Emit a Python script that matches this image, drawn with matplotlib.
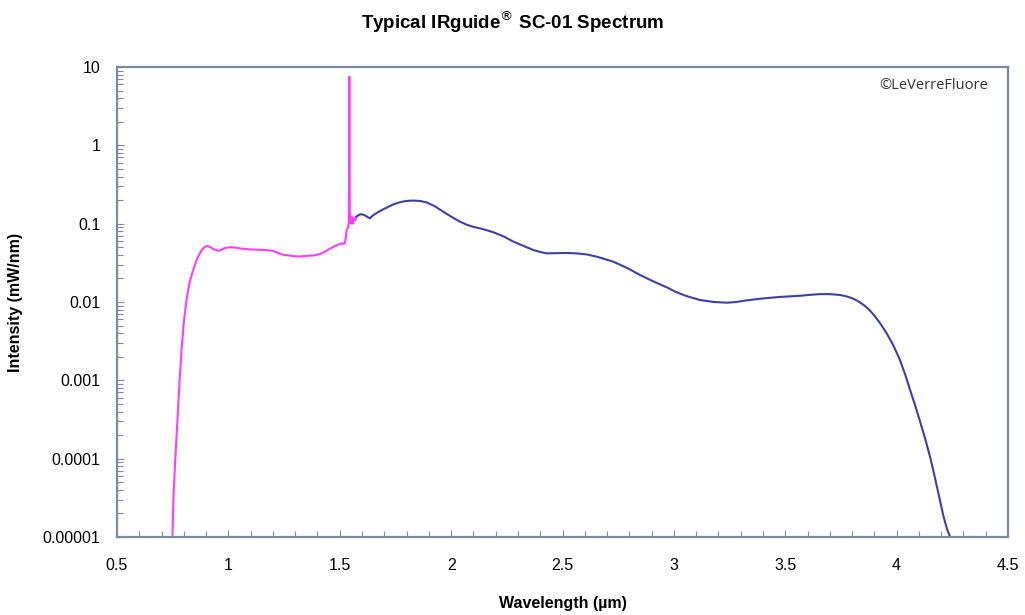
import matplotlib
matplotlib.use("Agg")
import matplotlib.pyplot as plt
from matplotlib.ticker import FixedLocator, LogLocator, NullFormatter, MultipleLocator

# Visible (magenta) part of the spectrum, wavelength in um, intensity in mW/nm
vis_wl = [0.748, 0.753, 0.760, 0.768, 0.775, 0.780, 0.785, 0.790, 0.800, 0.812,
          0.826, 0.842, 0.860, 0.880, 0.892, 0.902, 0.915, 0.930, 0.945, 0.959,
          0.972, 0.985, 1.007, 1.030, 1.060, 1.095, 1.127, 1.170, 1.200, 1.216,
          1.246, 1.280, 1.314, 1.340, 1.360, 1.390, 1.411, 1.435, 1.456, 1.480,
          1.501, 1.512, 1.519, 1.525, 1.531, 1.538, 1.541, 1.543, 1.545, 1.549,
          1.553, 1.558, 1.563, 1.568, 1.575]
vis_int = [8e-6, 3e-5, 8e-5, 2.1e-4, 4.8e-4, 9e-4, 1.5e-3, 2.5e-3, 5.5e-3, 0.0107,
           0.018, 0.0257, 0.036, 0.046, 0.050, 0.052, 0.051, 0.048, 0.046, 0.045,
           0.047, 0.049, 0.050, 0.0495, 0.048, 0.047, 0.0465, 0.046, 0.045, 0.043,
           0.040, 0.039, 0.038, 0.0385, 0.039, 0.0395, 0.041, 0.044, 0.048, 0.052,
           0.055, 0.056, 0.055, 0.060, 0.083, 0.090, 0.11, 7.5, 0.12, 0.10,
           0.123, 0.10, 0.118, 0.11, 0.123]

# Infrared (blue) part of the spectrum
ir_wl = [1.575, 1.587, 1.598, 1.610, 1.620, 1.635, 1.650, 1.675, 1.700, 1.740,
         1.765, 1.790, 1.810, 1.830, 1.860, 1.890, 1.925, 1.965, 2.000, 2.040,
         2.070, 2.100, 2.130, 2.160, 2.190, 2.235, 2.280, 2.325, 2.369, 2.400,
         2.429, 2.470, 2.519, 2.560, 2.609, 2.660, 2.728, 2.790, 2.848, 2.910,
         2.968, 3.010, 3.057, 3.117, 3.180, 3.237, 3.280, 3.327, 3.400, 3.476,
         3.564, 3.620, 3.656, 3.700, 3.746, 3.775, 3.800, 3.820, 3.840, 3.860,
         3.880, 3.900, 3.925, 3.955, 3.985, 4.014, 4.040, 4.060, 4.083, 4.105,
         4.128, 4.150, 4.165, 4.180, 4.195, 4.210, 4.225, 4.240, 4.250]
ir_int = [0.123, 0.130, 0.132, 0.129, 0.124, 0.117, 0.128, 0.142, 0.155, 0.176,
          0.186, 0.193, 0.196, 0.197, 0.195, 0.187, 0.168, 0.142, 0.123, 0.106,
          0.097, 0.091, 0.087, 0.0825, 0.0776, 0.069, 0.0589, 0.052, 0.0461, 0.0435,
          0.0418, 0.0420, 0.0423, 0.0418, 0.0405, 0.0375, 0.0327, 0.0272, 0.0221, 0.0182,
          0.0154, 0.0134, 0.0119, 0.0106, 0.0100, 0.0098, 0.0100, 0.0105, 0.0111, 0.0116,
          0.0120, 0.0124, 0.0126, 0.0126, 0.0123, 0.0118, 0.0112, 0.0105, 0.0097, 0.0088,
          0.0078, 0.0067, 0.0054, 0.0040, 0.0028, 0.00185, 0.00115, 7.6e-4, 4.8e-4, 3.0e-4,
          1.8e-4, 1.06e-4, 7.0e-5, 4.5e-5, 2.9e-5, 1.85e-5, 1.3e-5, 1.0e-5, 8e-6]

x_ticks = [0.5, 1, 1.5, 2, 2.5, 3, 3.5, 4, 4.5]
x_tick_labels = ["0.5", "1", "1.5", "2", "2.5", "3", "3.5", "4", "4.5"]
y_ticks = [1e-5, 1e-4, 1e-3, 1e-2, 1e-1, 1, 10]
y_tick_labels = ["0.00001", "0.0001", "0.001", "0.01", "0.1", "1", "10"]

plt.rcParams['font.family'] = ['Liberation Sans', 'DejaVu Sans']

fig = plt.figure(figsize=(10.25, 6.15), dpi=100)
ax = fig.add_axes([117/1025, 1-537/615, (1008-117)/1025, (537-67)/615])

ax.plot(vis_wl, vis_int, color='#ff3cff', lw=1.5, solid_joinstyle='round')
ax.plot(ir_wl, ir_int, color='#3f3fa8', lw=1.5, solid_joinstyle='round')

ax.set_yscale('log')
ax.set_xlim(0.5, 4.5)
ax.set_ylim(1e-5, 10)

ax.xaxis.set_major_locator(FixedLocator(x_ticks))
ax.set_xticklabels(x_tick_labels)
ax.xaxis.set_minor_locator(MultipleLocator(0.1))
ax.yaxis.set_major_locator(FixedLocator(y_ticks))
ax.set_yticklabels(y_tick_labels)
ax.yaxis.set_minor_locator(LogLocator(base=10, subs=range(2, 10), numticks=20))
ax.yaxis.set_minor_formatter(NullFormatter())

spine_c = '#7a8aa3'
for s in ax.spines.values():
    s.set_color(spine_c)
    s.set_linewidth(1.6)
ax.tick_params(which='both', direction='in', color=spine_c, width=0.8)
ax.tick_params(which='major', length=5, labelsize=11.5)
ax.tick_params(which='minor', length=4)
ax.tick_params(axis='x', which='major', pad=15)
ax.tick_params(axis='y', which='major', pad=12)

ax.set_xlabel('Wavelength (µm)', fontsize=11.5, fontweight='bold', labelpad=17)
ax.set_ylabel('Intensity (mW/nm)', fontsize=11.5, fontweight='bold', labelpad=14)
fig.text(0.5, 1-22/615, 'Typical IRguide$^{®}$ SC-01 Spectrum', ha='center', va='center',
         fontsize=13.5, fontweight='bold')
ax.text(0.917, 0.96, '©LeVerreFluore', transform=ax.transAxes, ha='center', va='center',
        fontsize=10.5, family=['Open Sans', 'DejaVu Sans'], color='#333333')

fig.savefig('out.png', dpi=100)
